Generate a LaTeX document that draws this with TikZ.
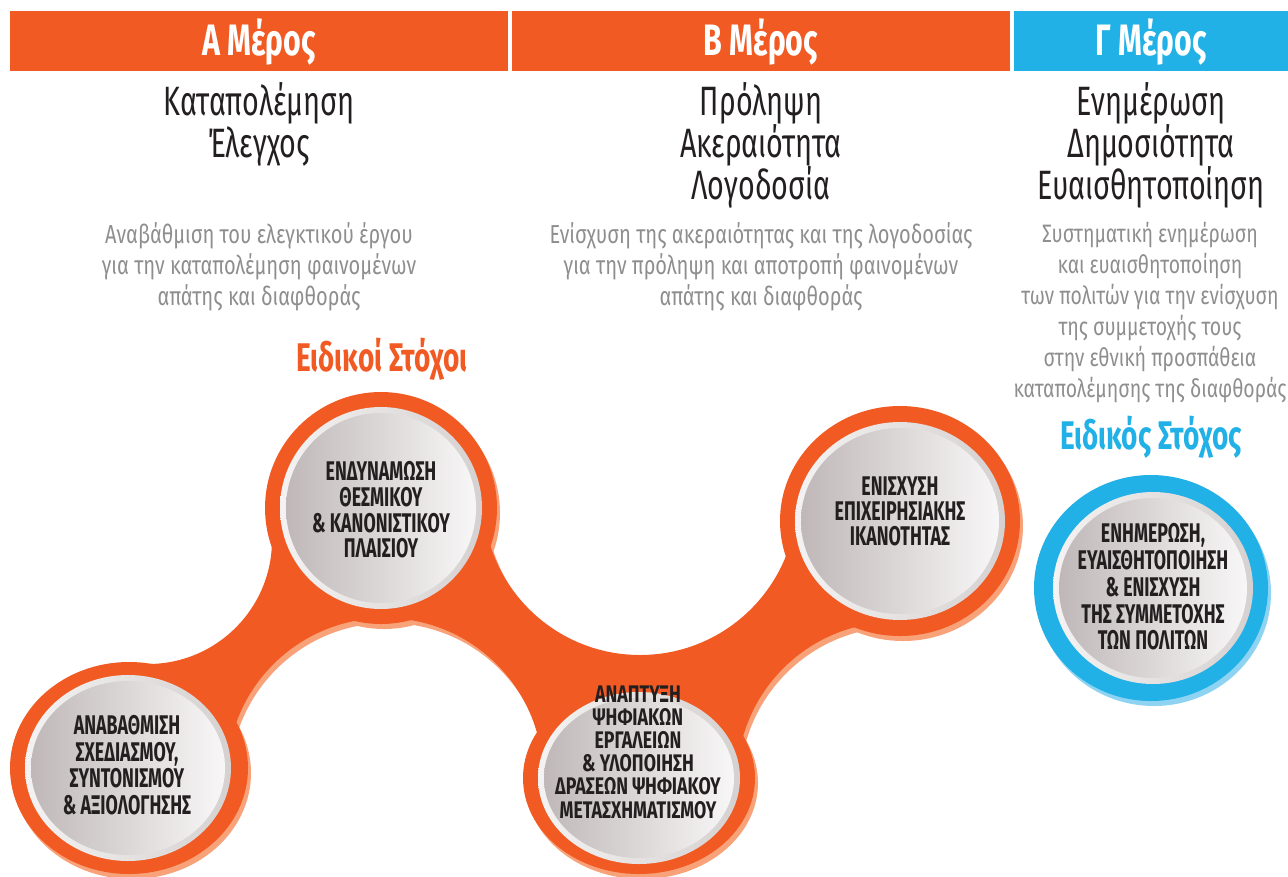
\documentclass[tikz,border=0pt]{standalone}
\usepackage{fontspec}
\setmainfont{Fira Sans}
\newfontfamily\fcirc[FakeStretch=0.66]{Fira Sans}
\newfontfamily\fcircs[FakeStretch=0.74]{Fira Sans}
\newfontfamily\fhdr[FakeStretch=0.69]{Fira Sans}
\newfontfamily\fgoal[FakeStretch=0.70]{Fira Sans}
\newfontfamily\fcondr[FakeStretch=0.70]{Fira Sans}
\newfontfamily\fdesc[FakeStretch=0.77]{Fira Sans}
\definecolor{org}{HTML}{F15A22}
\definecolor{orgsh}{HTML}{F8A27A}
\definecolor{blu}{HTML}{22B1E6}
\definecolor{blush}{HTML}{8ED3F2}
\definecolor{txt}{HTML}{231F20}
\definecolor{gtxt}{HTML}{8E8E8E}
\definecolor{rimL}{HTML}{F4F2F2}
\definecolor{rimR}{HTML}{D6D1D1}
\definecolor{inL}{HTML}{C0B8B8}
\definecolor{inR}{HTML}{F8F7F7}
\newcommand\chainshape[1]{%
\begin{scope}[even odd rule]
\clip (-100,-100) rectangle (1400,1000)
  (385,776) circle[radius=158pt] (640,498) circle[radius=157pt]
  (148,540) circle[radius=124pt] (895,780) circle[radius=158pt];
\fill[#1] (129,768) -- (148,540) -- (381,508) -- (640,498) -- (900,521) -- (895,780) -- (639,778) -- (385,776) -- cycle;
\end{scope}
\fill[#1] (129,768) ellipse[x radius=119pt, y radius=106pt];
\fill[#1] (381,508) circle[radius=116pt];
\fill[#1] (639,778) ellipse[x radius=116pt, y radius=96pt];
\fill[#1] (900,521) ellipse[x radius=120pt, y radius=115pt];
}
\newcommand\graydisk[3]{%
\shade[left color=rimL, right color=rimR] #1 ellipse[x radius=#2pt, y radius=#3pt];
\shade[left color=inL, right color=inR] #1 ellipse[x radius={#2pt-6pt}, y radius={#3pt-6pt}];
}
\tikzset{
  hdrbar/.style={fill=#1},
  hdrtext/.style={text=white, font={\fhdr\bfseries\fontsize{44}{44}\selectfont}},
  title/.style={text=txt, align=center, font={\fcondr\fontsize{41}{42}\selectfont}},
  desc/.style={text=gtxt, align=center, font={\fdesc\fontsize{26}{31}\selectfont}},
  goal/.style={text=#1, font={\fgoal\bfseries\fontsize{40}{40}\selectfont}},
  circtext/.style={text=txt, align=center, font={\fcirc\bfseries\fontsize{27}{#1}\selectfont}},
  circsmall/.style={text=txt, align=center, font={\fcircs\bfseries\fontsize{24}{23.2}\selectfont}},
}
\begin{document}
\begin{tikzpicture}[x=1pt,y=-1pt]
\useasboundingbox (0,0) rectangle (1288,876);
% header bars
\fill[hdrbar=org] (10,11) rectangle (508,71);
\fill[hdrbar=org] (512,11) rectangle (1010,71);
\fill[hdrbar=blu] (1014,11) rectangle (1288,71);
\node[hdrtext] (hA) at (259,42) {Α Μέρος};
\node[hdrtext] (hB) at (761,42) {Β Μέρος};
\node[hdrtext] (hC) at (1151,42) {Γ Μέρος};
% titles
\node[title, anchor=north] (tA) at (259,79) {Καταπολέμηση\\Έλεγχος};
\node[title, anchor=north] (tB) at (761,79) {Πρόληψη\\Ακεραιότητα\\Λογοδοσία};
\node[title, anchor=north] (tC) at (1151,79) {Ενημέρωση\\Δημοσιότητα\\Ευαισθητοποίηση};
% descriptions
\node[desc, anchor=north] (dA) at (259,219) {Αναβάθμιση του ελεγκτικού έργου\\για την καταπολέμηση φαινομένων\\απάτης και διαφθοράς};
\node[desc, anchor=north] (dB) at (761,219) {Ενίσχυση της ακεραιότητας και της λογοδοσίας\\για την πρόληψη και αποτροπή φαινομένων\\απάτης και διαφθοράς};
\node[desc, anchor=north, font={\fdesc\fontsize{25.2}{31}\selectfont}] (dC) at (1150,219) {Συστηματική ενημέρωση\\και ευαισθητοποίηση\\των πολιτών για την ενίσχυση\\της συμμετοχής τους\\στην εθνική προσπάθεια\\καταπολέμησης της διαφθοράς};
% goals headings
\node[goal=org] (gA) at (382,359) {Ειδικοί Στόχοι};
\node[goal=blu] (gC) at (1151,437) {Ειδικός Στόχος};
% chain shape
\begin{scope}[shift={(3,5)}]
\chainshape{orgsh}
\end{scope}
\chainshape{org}
% blue disk
\fill[blush] (1154,593) ellipse[x radius=117pt, y radius=113pt];
\fill[blu] (1151,588) ellipse[x radius=117pt, y radius=113pt];
% gray disks
\graydisk{(128,768)}{103}{93}
\graydisk{(381,508)}{101}{101}
\graydisk{(639,778)}{101}{86}
\graydisk{(900,521)}{105}{99}
\graydisk{(1153,588)}{100}{96}
% circle texts
\node[circtext=26.5] (c1) at (127,765) {ΑΝΑΒΑΘΜΙΣΗ\\ΣΧΕΔΙΑΣΜΟΥ,\\ΣΥΝΤΟΝΙΣΜΟΥ\\\& ΑΞΙΟΛΟΓΗΣΗΣ};
\node[circtext=25.7] (c2) at (381,510) {ΕΝΔΥΝΑΜΩΣΗ\\ΘΕΣΜΙΚΟΥ\\\& ΚΑΝΟΝΙΣΤΙΚΟΥ\\ΠΛΑΙΣΙΟΥ};
\node[circsmall] (c3) at (638,752) {ΑΝΑΠΤΥΞΗ\\ΨΗΦΙΑΚΩΝ\\ΕΡΓΑΛΕΙΩΝ\\\& ΥΛΟΠΟΙΗΣΗ\\ΔΡΑΣΕΩΝ ΨΗΦΙΑΚΟΥ\\ΜΕΤΑΣΧΗΜΑΤΙΣΜΟΥ};
\node[circtext=25] (c4) at (900,511) {ΕΝΙΣΧΥΣΗ\\ΕΠΙΧΕΙΡΗΣΙΑΚΗΣ\\ΙΚΑΝΟΤΗΤΑΣ};
\node[circtext=26.8] (c5) at (1153,587) {ΕΝΗΜΕΡΩΣΗ,\\ΕΥΑΙΣΘΗΤΟΠΟΙΗΣΗ\\\& ΕΝΙΣΧΥΣΗ\\ΤΗΣ ΣΥΜΜΕΤΟΧΗΣ\\ΤΩΝ ΠΟΛΙΤΩΝ};
\end{tikzpicture}
\end{document}
